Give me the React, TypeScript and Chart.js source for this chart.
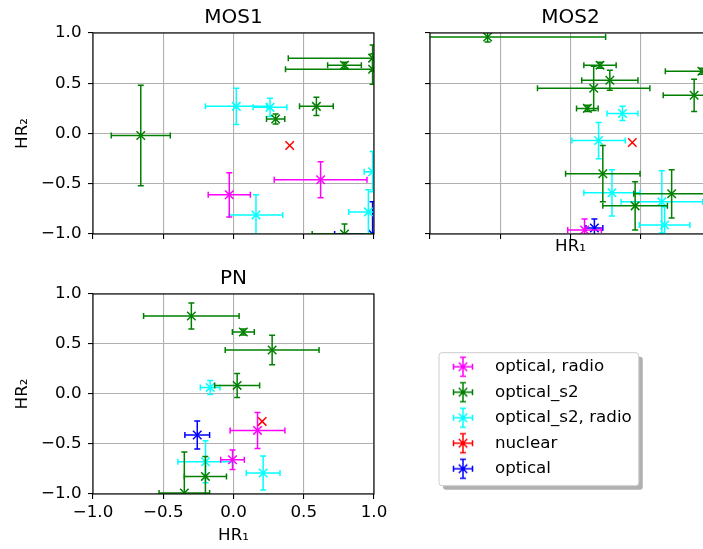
import React, { useEffect, useRef } from 'react';
import { Chart, registerables } from 'chart.js';

Chart.register(...registerables);

const FONT = 'DejaVu Sans';
const CATEGORIES = ['optical, radio', 'optical_s2', 'optical_s2, radio', 'nuclear', 'optical'];
const COLORS = ['#ff00ff', '#008000', '#00ffff', '#ff0000', '#0000ff'];
const AXIS_MIN = -1;
const AXIS_MAX = 1;
const TICK_STEP = 0.5;
const X_LABEL = 'HR\u2081';
const Y_LABEL = 'HR\u2082';

// ---- MOS1 ----
const MOS1_CLASS = ['optical_s2', 'optical_s2, radio', 'optical_s2, radio', 'optical_s2', 'optical_s2', 'optical_s2', 'optical_s2', 'optical_s2', 'nuclear', 'optical, radio', 'optical, radio', 'optical_s2, radio', 'optical_s2, radio', 'optical_s2, radio', 'optical_s2', 'optical'];
const MOS1_HR1 = [-0.66, 0.02, 0.26, 0.30, 0.59, 0.79, 0.99, 0.99, 0.40, -0.03, 0.62, 0.16, 0.96, 0.99, 0.79, 0.99];
const MOS1_HR2 = [-0.02, 0.27, 0.26, 0.145, 0.27, 0.68, 0.75, 0.64, -0.12, -0.61, -0.46, -0.81, -0.78, -0.38, -1.0, -1.0];
const MOS1_HR1_ERR = [0.21, 0.22, 0.12, 0.065, 0.12, 0.12, 0.60, 0.62, 0, 0.15, 0.33, 0.19, 0.14, 0.06, 0.23, 0.27];
const MOS1_HR2_ERR = [0.50, 0.18, 0.09, 0.05, 0.09, 0.03, 0.13, 0.15, 0, 0.22, 0.18, 0.20, 0.22, 0.20, 0.10, 0.32];

// ---- MOS2 ----
const MOS2_CLASS = ['optical_s2', 'optical_s2', 'optical_s2', 'optical_s2', 'optical_s2', 'optical_s2', 'optical_s2', 'optical_s2, radio', 'optical_s2, radio', 'nuclear', 'optical_s2', 'optical_s2, radio', 'optical_s2', 'optical_s2', 'optical_s2, radio', 'optical_s2, radio', 'optical, radio', 'optical'];
const MOS2_HR1 = [-0.59, 0.21, 0.28, 0.165, 0.12, 0.88, 0.935, 0.37, 0.20, 0.44, 0.23, 0.295, 0.46, 0.72, 0.65, 0.67, 0.10, 0.17];
const MOS2_HR2 = [0.96, 0.68, 0.53, 0.45, 0.25, 0.38, 0.62, 0.20, -0.07, -0.09, -0.40, -0.59, -0.72, -0.60, -0.68, -0.91, -0.96, -0.94];
const MOS2_HR1_ERR = [0.84, 0.115, 0.20, 0.40, 0.077, 0.22, 0.26, 0.11, 0.19, 0, 0.265, 0.20, 0.23, 0.27, 0.29, 0.18, 0.12, 0.06];
const MOS2_HR2_ERR = [0.05, 0.03, 0.10, 0.22, 0.03, 0.16, 0.03, 0.07, 0.18, 0, 0.28, 0.23, 0.24, 0.24, 0.31, 0.18, 0.11, 0.09];

// ---- PN ----
const PN_CLASS = ['optical_s2', 'optical_s2', 'optical_s2', 'optical_s2, radio', 'optical_s2', 'nuclear', 'optical, radio', 'optical', 'optical, radio', 'optical_s2, radio', 'optical_s2', 'optical_s2, radio', 'optical_s2'];
const PN_HR1 = [-0.30, 0.07, 0.275, -0.166, 0.026, 0.204, 0.171, -0.258, -0.007, -0.199, -0.20, 0.211, -0.35];
const PN_HR2 = [0.78, 0.62, 0.44, 0.066, 0.086, -0.274, -0.364, -0.41, -0.657, -0.677, -0.824, -0.79, -0.99];
const PN_HR1_ERR = [0.34, 0.078, 0.334, 0.07, 0.16, 0, 0.195, 0.088, 0.084, 0.197, 0.15, 0.12, 0.18];
const PN_HR2_ERR = [0.13, 0.03, 0.147, 0.07, 0.12, 0, 0.18, 0.14, 0.097, 0.21, 0.20, 0.17, 0.41];

const ERR_WIDTH = 1.5;
const CAP = 3;
const TICK_FONT = 16.7;
const TITLE_FONT = 20;

function buildDatasets(cls: string[], x: number[], y: number[], xe: number[], ye: number[]) {
  return CATEGORIES.map((c, ci) => ({
    label: c,
    data: cls
      .map((k, i) => (k === c ? { x: x[i], y: y[i], xerr: xe[i], yerr: ye[i] } : null))
      .filter((d) => d !== null),
    borderColor: COLORS[ci],
    backgroundColor: COLORS[ci],
    pointStyle: 'crossRot',
    pointRadius: 6,
    pointHoverRadius: 6,
    pointBorderWidth: 1.5,
    clip: 0,
  }));
}

const errorBarPlugin = {
  id: 'errorBars',
  beforeDatasetDraw(chart: any, args: any) {
    const ds = chart.data.datasets[args.index];
    const xs = chart.scales.x;
    const ys = chart.scales.y;
    const a = chart.chartArea;
    const ctx = chart.ctx;
    ctx.save();
    ctx.beginPath();
    ctx.rect(a.left, a.top, a.right - a.left, a.bottom - a.top);
    ctx.clip();
    ctx.strokeStyle = ds.borderColor;
    ctx.lineWidth = ERR_WIDTH;
    for (const p of ds.data) {
      if (!p.xerr && !p.yerr) continue;
      const cx = xs.getPixelForValue(p.x);
      const cy = ys.getPixelForValue(p.y);
      const x0 = xs.getPixelForValue(p.x - p.xerr);
      const x1 = xs.getPixelForValue(p.x + p.xerr);
      const y0 = ys.getPixelForValue(p.y - p.yerr);
      const y1 = ys.getPixelForValue(p.y + p.yerr);
      ctx.beginPath();
      ctx.moveTo(x0, cy); ctx.lineTo(x1, cy);
      ctx.moveTo(cx, y0); ctx.lineTo(cx, y1);
      ctx.moveTo(x0, cy - CAP); ctx.lineTo(x0, cy + CAP);
      ctx.moveTo(x1, cy - CAP); ctx.lineTo(x1, cy + CAP);
      ctx.moveTo(cx - CAP, y0); ctx.lineTo(cx + CAP, y0);
      ctx.moveTo(cx - CAP, y1); ctx.lineTo(cx + CAP, y1);
      ctx.stroke();
    }
    ctx.restore();
  },
};

const framePlugin = {
  id: 'frame',
  afterDatasetsDraw(chart: any) {
    const { ctx, chartArea: a } = chart;
    ctx.save();
    ctx.strokeStyle = '#000';
    ctx.lineWidth = 1.1;
    ctx.strokeRect(a.left, a.top, a.right - a.left, a.bottom - a.top);
    ctx.restore();
  },
};

const fmt = (v: any) => Number(v).toFixed(1).replace('-', '\u2212');

function panelConfig(p: any) {
  const grid = { color: '#b0b0b0', lineWidth: 1.1, tickColor: '#000', tickLength: 5, tickWidth: 1.1, drawTicks: true };
  return {
    type: 'scatter',
    data: { datasets: buildDatasets(p.cls, p.x, p.y, p.xe, p.ye) },
    options: {
      animation: false,
      responsive: false,
      devicePixelRatio: 1,
      events: [],
      layout: { padding: p.padding },
      plugins: {
        legend: { display: false },
        tooltip: { enabled: false },
        title: {
          display: true,
          text: p.title,
          fullSize: false,
          color: '#000',
          font: { family: FONT, size: TITLE_FONT, weight: 'normal' },
          padding: p.titlePad,
        },
      },
      scales: {
        x: {
          type: 'linear',
          min: AXIS_MIN,
          max: AXIS_MAX,
          ticks: { stepSize: TICK_STEP, display: p.xTicks, color: '#000', font: { family: FONT, size: TICK_FONT }, padding: 4, callback: fmt, maxRotation: 0, autoSkip: false },
          grid,
          border: { display: false },
          title: { display: p.xTitle, text: X_LABEL, color: '#000', font: { family: FONT, size: TICK_FONT }, padding: { top: 0, bottom: p.xTitlePad } },
          afterFit: (s: any) => { s.height = p.xHeight; },
        },
        y: {
          type: 'linear',
          min: AXIS_MIN,
          max: AXIS_MAX,
          ticks: { stepSize: TICK_STEP, display: p.yTicks, color: '#000', font: { family: FONT, size: TICK_FONT }, padding: 6.5, callback: fmt, autoSkip: false },
          grid,
          border: { display: false },
          title: { display: p.yTitle, text: Y_LABEL, color: '#000', font: { family: FONT, size: TICK_FONT }, padding: { top: 0.5, bottom: 0 } },
          afterFit: (s: any) => { s.width = p.yWidth; },
        },
      },
    },
    plugins: [errorBarPlugin, framePlugin],
  };
}

function makeIcon(color: string) {
  const c = document.createElement('canvas');
  c.width = 24;
  c.height = 24;
  const g = c.getContext('2d') as CanvasRenderingContext2D;
  const m = 12;
  const L = 9.5;
  const r = 4.24;
  g.strokeStyle = color;
  g.lineWidth = ERR_WIDTH;
  g.beginPath();
  g.moveTo(m - L, m); g.lineTo(m + L, m);
  g.moveTo(m, m - L); g.lineTo(m, m + L);
  g.moveTo(m - L, m - CAP); g.lineTo(m - L, m + CAP);
  g.moveTo(m + L, m - CAP); g.lineTo(m + L, m + CAP);
  g.moveTo(m - CAP, m - L); g.lineTo(m + CAP, m - L);
  g.moveTo(m - CAP, m + L); g.lineTo(m + CAP, m + L);
  g.moveTo(m - r, m - r); g.lineTo(m + r, m + r);
  g.moveTo(m - r, m + r); g.lineTo(m + r, m - r);
  g.stroke();
  return c;
}

function roundRect(ctx: CanvasRenderingContext2D, x: number, y: number, w: number, h: number, r: number) {
  ctx.beginPath();
  ctx.moveTo(x + r, y);
  ctx.lineTo(x + w - r, y);
  ctx.arcTo(x + w, y, x + w, y + r, r);
  ctx.lineTo(x + w, y + h - r);
  ctx.arcTo(x + w, y + h, x + w - r, y + h, r);
  ctx.lineTo(x + r, y + h);
  ctx.arcTo(x, y + h, x, y + h - r, r);
  ctx.lineTo(x, y + r);
  ctx.arcTo(x, y, x + r, y, r);
  ctx.closePath();
}

const legendFramePlugin = {
  id: 'legendFrame',
  beforeDraw(chart: any) {
    const lg = chart.legend;
    if (!lg || !lg.legendHitBoxes || !lg.legendHitBoxes.length) return;
    const hb = lg.legendHitBoxes;
    const left = hb[0].left - 0.3;
    const top = hb[0].top - 5.65;
    const right = Math.max(...hb.map((h: any) => h.left + h.width)) + 7;
    const last = hb[hb.length - 1];
    const bottom = last.top + last.height + 8.65;
    const ctx = chart.ctx;
    ctx.save();
    ctx.fillStyle = '#b0b0b0';
    roundRect(ctx, left + 4, top + 4, right - left, bottom - top, 3);
    ctx.fill();
    ctx.fillStyle = '#ffffff';
    roundRect(ctx, left, top, right - left, bottom - top, 3);
    ctx.fill();
    ctx.strokeStyle = '#cccccc';
    ctx.lineWidth = 1;
    ctx.stroke();
    ctx.restore();
  },
};

function legendConfig(icons: HTMLCanvasElement[]) {
  return {
    type: 'scatter',
    data: { datasets: CATEGORIES.map((c, i) => ({ label: c, data: [], borderColor: COLORS[i], backgroundColor: COLORS[i] })) },
    options: {
      animation: false,
      responsive: false,
      devicePixelRatio: 1,
      events: [],
      layout: { padding: { left: 0.5, top: 9.55, right: 0, bottom: 0 } },
      scales: { x: { display: false }, y: { display: false } },
      plugins: {
        tooltip: { enabled: false },
        title: { display: false },
        legend: {
          display: true,
          position: 'left',
          align: 'start',
          maxWidth: 268,
          labels: {
            usePointStyle: true,
            pointStyleWidth: 47.3,
            padding: 8.8,
            color: '#000',
            font: { family: FONT, size: TICK_FONT },
            generateLabels: () =>
              CATEGORIES.map((c, i) => ({
                text: c,
                pointStyle: icons[i],
                fillStyle: COLORS[i],
                strokeStyle: COLORS[i],
                lineWidth: 0,
                hidden: false,
                datasetIndex: i,
                fontColor: '#000',
              })),
          },
        },
      },
    },
    plugins: [legendFramePlugin],
  };
}

export default function App() {
  const mos1Ref = useRef<HTMLCanvasElement>(null);
  const mos2Ref = useRef<HTMLCanvasElement>(null);
  const pnRef = useRef<HTMLCanvasElement>(null);
  const legRef = useRef<HTMLCanvasElement>(null);

  useEffect(() => {
    const charts: Chart[] = [];
    charts.push(new Chart(mos1Ref.current as HTMLCanvasElement, panelConfig({
      title: 'MOS1', cls: MOS1_CLASS, x: MOS1_HR1, y: MOS1_HR2, xe: MOS1_HR1_ERR, ye: MOS1_HR2_ERR,
      padding: { left: 12, right: 26, top: 0, bottom: 0 },
      titlePad: { top: 5.4, bottom: 3.6 },
      xTicks: false, xTitle: false, yTicks: true, yTitle: true,
      xHeight: 26, yWidth: 81, xTitlePad: 0,
    }) as any));
    charts.push(new Chart(mos2Ref.current as HTMLCanvasElement, panelConfig({
      title: 'MOS2', cls: MOS2_CLASS, x: MOS2_HR1, y: MOS2_HR2, xe: MOS2_HR1_ERR, ye: MOS2_HR2_ERR,
      padding: { left: 0, right: 19, top: 0, bottom: 0 },
      titlePad: { top: 5.4, bottom: 3.6 },
      xTicks: false, xTitle: true, yTicks: false, yTitle: false,
      xHeight: 26, yWidth: 20, xTitlePad: 3,
    }) as any));
    charts.push(new Chart(pnRef.current as HTMLCanvasElement, panelConfig({
      title: 'PN', cls: PN_CLASS, x: PN_HR1, y: PN_HR2, xe: PN_HR1_ERR, ye: PN_HR2_ERR,
      padding: { left: 12, right: 26, top: 0, bottom: 0 },
      titlePad: { top: 11.4, bottom: 3.6 },
      xTicks: true, xTitle: true, yTicks: true, yTitle: true,
      xHeight: 55, yWidth: 81, xTitlePad: 3,
    }) as any));
    const icons = COLORS.map((c) => makeIcon(c));
    charts.push(new Chart(legRef.current as HTMLCanvasElement, legendConfig(icons) as any));
    return () => { charts.forEach((c) => c.destroy()); };
  }, []);

  return (
    <div style={{ position: 'absolute', left: 0, top: 0, width: 703, height: 549, overflow: 'hidden', background: '#ffffff' }}>
      <canvas ref={mos1Ref} width={400} height={260} style={{ position: 'absolute', left: 0, top: 0 }} />
      <canvas ref={mos2Ref} width={320} height={260} style={{ position: 'absolute', left: 410, top: 0 }} />
      <canvas ref={pnRef} width={400} height={294} style={{ position: 'absolute', left: 0, top: 255 }} />
      <canvas ref={legRef} width={273} height={170} style={{ position: 'absolute', left: 430, top: 340 }} />
    </div>
  );
}
